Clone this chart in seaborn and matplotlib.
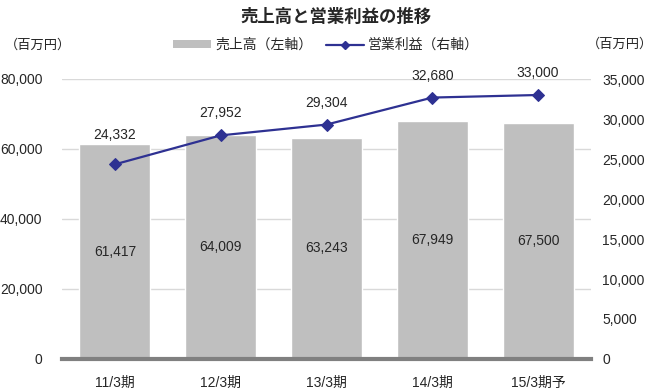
import numpy as np
import matplotlib
matplotlib.use("Agg")
import matplotlib.pyplot as plt
import seaborn as sns
from matplotlib.lines import Line2D
from matplotlib.patches import Patch
from matplotlib.ticker import FuncFormatter, MultipleLocator

PERIODS = ["11/3期", "12/3期", "13/3期", "14/3期", "15/3期予"]
SALES = [61417, 64009, 63243, 67949, 67500]
PROFIT = [24332, 27952, 29304, 32680, 33000]

TITLE = "売上高と営業利益の推移"
SALES_LABEL = "売上高（左軸）"
PROFIT_LABEL = "営業利益（右軸）"
UNIT = "（百万円）"

BAR_COLOR = "#bfbfbf"
LINE_COLOR = "#2e3192"
SPINE_COLOR = "#808080"

sns.set_theme(style="white")
plt.rcParams["font.family"] = ["Liberation Sans", "Noto Sans CJK JP", "DejaVu Sans"]
plt.rcParams["font.size"] = 10

fig = plt.figure(figsize=(6.54, 3.92), dpi=100)
ax = fig.add_axes([62 / 654, 1 - 359 / 392, 529 / 654, 280 / 392])

sns.barplot(x=PERIODS, y=SALES, color=BAR_COLOR, width=0.67, saturation=1, ax=ax, zorder=2)
ax.set_ylim(0, 80000)
ax.set_xlim(-0.5, len(PERIODS) - 0.5)
ax.yaxis.set_major_locator(MultipleLocator(20000))
fmt = FuncFormatter(lambda v, p: f"{int(v):,}")
ax.yaxis.set_major_formatter(fmt)
ax.grid(axis="y", color="#d9d9d9", linewidth=1, zorder=0)
ax.set_axisbelow(True)
ax.set_xlabel("")
ax.set_ylabel("")
for s in ["top", "left", "right"]:
    ax.spines[s].set_visible(False)
ax.spines["bottom"].set_color(SPINE_COLOR)
ax.spines["bottom"].set_linewidth(3)
ax.spines["bottom"].set_zorder(5)
ax.tick_params(axis="y", length=0, pad=14, labelsize=10)
ax.tick_params(axis="x", which="major", length=0, pad=12, labelsize=10)
ax.set_xticks(np.arange(-0.5, len(PERIODS)), minor=True)
ax.tick_params(axis="x", which="minor", length=4, width=2, color=SPINE_COLOR)

# sales labels in middle of bars
for i, v in enumerate(SALES):
    ax.text(i, v / 2, f"{v:,}", ha="center", va="center", fontsize=10)

ax2 = ax.twinx()
x = np.arange(len(PERIODS))
sns.lineplot(x=x, y=PROFIT, color=LINE_COLOR, linewidth=1.6, marker="D",
             markersize=6, markeredgecolor=LINE_COLOR, ax=ax2, zorder=4)
ax2.set_ylim(0, 35000)
ax2.yaxis.set_major_locator(MultipleLocator(5000))
ax2.yaxis.set_major_formatter(fmt)
ax2.tick_params(axis="y", length=0, pad=8, labelsize=10)
for s in ax2.spines.values():
    s.set_visible(False)
ax2.set_ylabel("")

# profit labels above points, kept clear of the bar tops
scale = 35000 / 80000
for i, (s, p) in enumerate(zip(SALES, PROFIT)):
    y = max(p + 2750, s * scale + 1125)
    ax2.text(i, y, f"{p:,}", ha="center", va="center", fontsize=10)

handles = [Patch(facecolor=BAR_COLOR, edgecolor="none"),
           Line2D([0], [0], color=LINE_COLOR, lw=1.6, marker="D", markersize=4)]
fig.legend(handles, [SALES_LABEL, PROFIT_LABEL], loc="center", bbox_to_anchor=(326 / 654, 1 - 45 / 392),
           ncol=2, frameon=False, fontsize=10, handlelength=2.7, handleheight=0.5,
           columnspacing=1.0, handletextpad=0.3)

fig.text(336 / 654, 1 - 16 / 392, TITLE, ha="center", va="center", fontsize=12.5, fontweight="bold")
fig.text(5 / 654, 1 - 45 / 392, UNIT, ha="left", va="center", fontsize=9.5)
fig.text(653 / 654, 1 - 44 / 392, UNIT, ha="right", va="center", fontsize=9.5)

fig.savefig("out.png", dpi=100)
